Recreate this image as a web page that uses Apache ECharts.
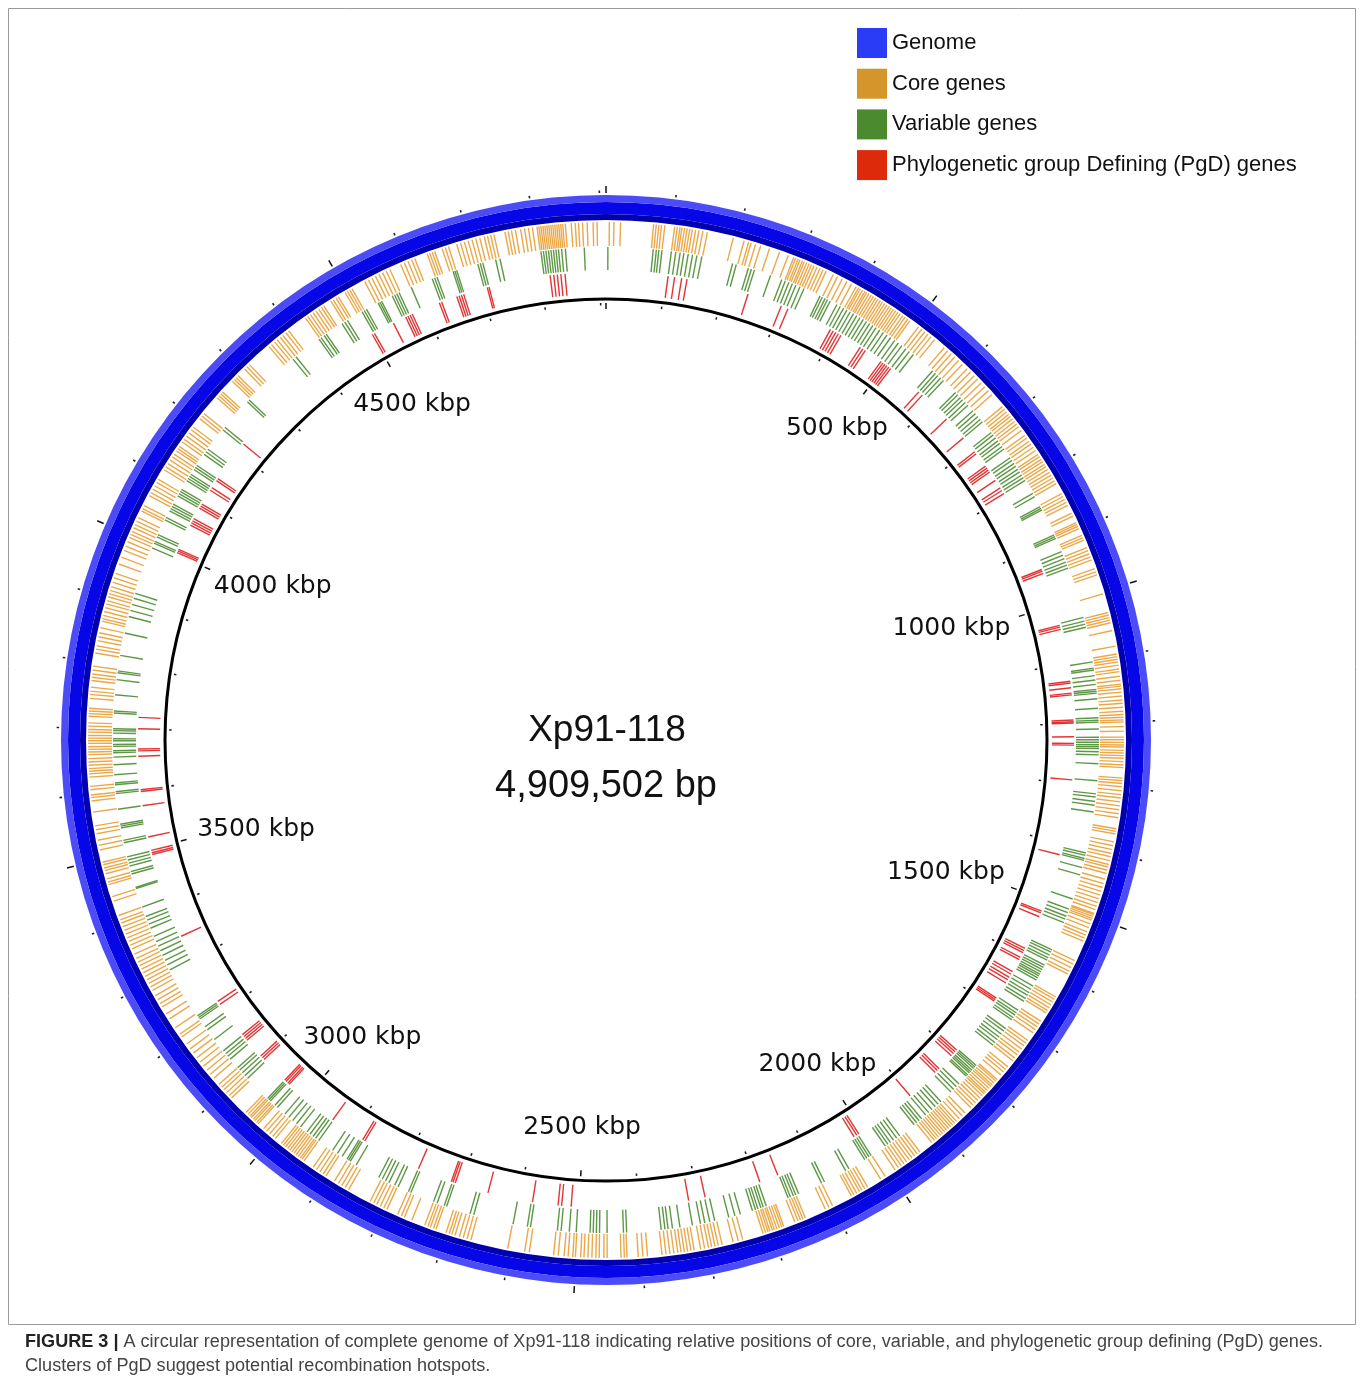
<!DOCTYPE html>
<html>
<head>
<meta charset="utf-8">
<title>Xp91-118 genome map</title>
<script src="https://cdn.jsdelivr.net/npm/echarts@6/dist/echarts.min.js"></script>
<style>
  html, body { margin: 0; padding: 0; background: #ffffff; }
  #chart { width: 1360px; height: 1382px; }
</style>
</head>
<body>
<div id="chart"></div>
<script>
// ---------------------------------------------------------------------------
// Genome and annotation data (positions in kbp)
// ---------------------------------------------------------------------------
const genomeName = 'Xp91-118';
const genomeLengthBp = 4909502;

// scale ticks (kbp)
const majorTicks = [0, 500, 1000, 1500, 2000, 2500, 3000, 3500, 4000, 4500];
const minorTicks = [100, 200, 300, 400, 600, 700, 800, 900, 1100, 1200, 1300, 1400,
  1600, 1700, 1800, 1900, 2100, 2200, 2300, 2400, 2600, 2700, 2800, 2900,
  3100, 3200, 3300, 3400, 3600, 3700, 3800, 3900, 4100, 4200, 4300, 4400,
  4600, 4700, 4800, 4900];
const labelTicks = [500, 1000, 1500, 2000, 2500, 3000, 3500, 4000, 4500];
const labelTexts = ['500 kbp', '1000 kbp', '1500 kbp', '2000 kbp', '2500 kbp',
  '3000 kbp', '3500 kbp', '4000 kbp', '4500 kbp'];

// core genes (kbp)
const coreGenes = [5, 12, 22,
  72, 76, 80, 84, 89,
  104, 108, 112, 115, 119, 123, 127, 131, 136, 141, 147, 154,
  194, 211, 218, 222, 229, 237, 251, 267, 281,
  290, 293, 297, 300, 304, 307, 311, 315, 319, 323, 328, 333, 338, 343,
  355, 362, 370, 378, 386,
  394, 398, 401, 405, 409, 412, 416, 420, 424, 428, 432, 436, 440, 444, 448, 452, 456, 460, 464, 468, 472, 477, 481, 486, 490,
  506, 512, 518, 524, 530, 537,
  556, 563, 570, 577, 585, 593,
  603, 610, 618, 625, 633, 641, 649, 657,
  681, 686, 691, 696, 700, 705, 710, 715, 720, 727,
  736, 741, 747, 752, 758, 764,
  771, 775, 780, 784, 789, 793, 798, 803, 808, 813, 818, 823,
  840, 845, 850, 855, 860, 873, 878,
  889, 892, 895, 899, 910, 914, 918,
  930, 935, 940, 945, 950, 964, 969, 974, 1004,
  1033, 1037, 1041, 1045, 1049, 1061,
  1085, 1097, 1101, 1105, 1109, 1114, 1120, 1124, 1131, 1137, 1143, 1146, 1150, 1155,
  1161, 1167, 1172, 1178, 1184, 1189, 1193, 1197, 1200, 1207, 1214,
  1223, 1227, 1231, 1235, 1238, 1243, 1247, 1251, 1255, 1260, 1265, 1269,
  1285, 1289, 1293, 1298, 1304, 1310, 1315, 1321, 1327, 1333, 1339, 1345,
  1362, 1366, 1370, 1382, 1388, 1394, 1400, 1405, 1411, 1417, 1421, 1426, 1431, 1440, 1447,
  1453, 1459, 1465, 1471, 1477, 1483, 1488, 1494, 1496, 1499, 1502, 1505, 1511, 1517,
  1524, 1529, 1534, 1539,
  1571, 1577, 1583, 1589, 1594,
  1633, 1637, 1642, 1647, 1652, 1657, 1661,
  1676, 1681, 1686, 1691, 1697,
  1711, 1716, 1721, 1727, 1733, 1738, 1744, 1749,
  1761, 1766, 1771, 1777,
  1786, 1789, 1793, 1797, 1800, 1804, 1808, 1812, 1815, 1819,
  1824, 1829, 1834, 1839, 1844, 1856, 1862, 1868, 1874,
  1878, 1882, 1886, 1890, 1894, 1898, 1902, 1906, 1910, 1914, 1918, 1923,
  1946, 1951, 1956, 1961, 1966, 1971, 1976, 1981, 1986, 1992,
  2010, 2018, 2041, 2046, 2051, 2055, 2060, 2065, 2069,
  2101, 2107, 2113, 2146, 2150, 2154, 2158, 2163,
  2181, 2184, 2188, 2192, 2196, 2199, 2203, 2206, 2210, 2214,
  2246, 2253, 2261, 2278, 2284, 2289, 2294, 2299, 2305, 2311,
  2321, 2326, 2331, 2336, 2341, 2346, 2352, 2358, 2364, 2370,
  2392, 2399, 2406, 2423, 2427, 2432, 2453, 2458,
  2465, 2470, 2476, 2482, 2488, 2493, 2501, 2505, 2512, 2518, 2527, 2534,
  2571, 2578, 2604,
  2661, 2667, 2673, 2679, 2686, 2691, 2695, 2700,
  2716, 2720, 2725, 2729, 2734, 2755, 2767, 2772, 2778,
  2796, 2801, 2807, 2813, 2818, 2824,
  2861, 2867, 2873, 2879, 2886, 2901, 2906, 2912, 2918, 2924,
  2941, 2945, 2948, 2952, 2956, 2960, 2964, 2968, 2972, 2976, 2980, 2984,
  2996, 3001, 3007, 3013, 3019,
  3030, 3033, 3037, 3040, 3044, 3047, 3051, 3055,
  3086, 3091, 3097, 3103, 3108, 3114,
  3126, 3134, 3142, 3150, 3158, 3166, 3175, 3183, 3192, 3205, 3210, 3222, 3238, 3247,
  3259, 3265, 3272, 3279, 3288, 3294, 3300, 3306, 3312, 3318,
  3324, 3330, 3336, 3342, 3349,
  3358, 3364, 3370, 3376, 3382, 3388, 3394, 3400, 3405, 3412, 3435, 3442,
  3461, 3465, 3470, 3478, 3483, 3487, 3492, 3496,
  3515, 3522, 3530, 3540, 3546, 3552, 3573,
  3590, 3595, 3599, 3607, 3612, 3626, 3631, 3635, 3639, 3644, 3649, 3654,
  3660, 3664, 3668, 3672, 3677, 3681, 3685, 3689, 3694, 3698, 3703, 3708,
  3718, 3722, 3726, 3730, 3745, 3751, 3756, 3762,
  3772, 3777, 3782, 3788, 3794, 3814, 3820, 3825, 3833, 3839, 3845, 3853, 3863,
  3867, 3872, 3878, 3884, 3890, 3895, 3901, 3906,
  3911, 3917, 3924, 3931, 3938, 3953, 3964,
  3975, 3982, 3989, 3996, 4001, 4006, 4012, 4017, 4023, 4029, 4040, 4044, 4049,
  4066, 4071, 4077, 4083, 4089, 4094,
  4111, 4116, 4122, 4128, 4134, 4139, 4145, 4149, 4153,
  4161, 4166, 4172, 4178, 4184, 4189, 4205, 4210, 4215,
  4246, 4250, 4254, 4258, 4280, 4284, 4288, 4292, 4306, 4311, 4316,
  4356, 4361, 4367, 4372, 4378, 4383, 4389, 4394,
  4426, 4430, 4435, 4440, 4445, 4450, 4455, 4459,
  4472, 4476, 4481, 4485, 4497, 4501, 4505, 4509,
  4531, 4537, 4543, 4549, 4555, 4561, 4567, 4573,
  4591, 4597, 4603, 4609, 4614, 4634, 4638, 4642, 4646, 4658, 4663, 4668,
  4681, 4687, 4693, 4699, 4705, 4711, 4717, 4724, 4729, 4734, 4739,
  4756, 4761, 4766, 4772, 4780, 4786, 4792, 4798,
  4805, 4808, 4811, 4814, 4817, 4820, 4823, 4826, 4829, 4832, 4835, 4838, 4841, 4844, 4848,
  4857, 4863, 4868, 4874, 4881, 4890, 4896];

// variable genes (kbp)
const variableGenes = [3,
  75, 80, 84, 89,
  104, 111, 118, 124, 131, 138, 145, 153,
  203, 209, 229, 234, 239, 266,
  285, 291, 297, 303, 309, 316, 323,
  351, 355, 360, 364, 369,
  381, 387, 393, 399, 405, 411, 417, 423, 429, 435, 441, 447, 453, 460, 467,
  474, 481, 489, 496, 503, 511, 518, 526,
  566, 572, 577, 583, 589,
  616, 621, 627, 632, 638, 644,
  656, 662, 668, 674, 679,
  701, 706, 712, 718, 723, 729, 734,
  751, 756, 762, 767, 773, 778, 784, 789, 794,
  818, 824, 842, 845, 848, 892, 895, 898,
  921, 927, 933, 939, 944, 949,
  1031, 1037, 1042, 1047,
  1103, 1113, 1116, 1125, 1132, 1139, 1147, 1150, 1153, 1162, 1177, 1192, 1196, 1199, 1210,
  1223, 1227, 1231, 1235, 1238, 1241, 1246, 1251, 1265, 1292, 1313, 1318,
  1325, 1331, 1342, 1408, 1412, 1417, 1420, 1432, 1444, 1484,
  1501, 1507, 1513, 1518, 1524,
  1571, 1575, 1580, 1585, 1589,
  1598, 1602, 1606, 1610, 1614, 1617, 1621, 1625,
  1636, 1642, 1648, 1653, 1659, 1664,
  1681, 1686, 1690, 1695, 1699,
  1716, 1721, 1727, 1733, 1738, 1744, 1749,
  1791, 1794, 1797, 1801, 1804, 1807, 1811, 1814,
  1831, 1837, 1843, 1849,
  1871, 1877, 1883, 1890, 1897, 1903,
  1912, 1917, 1922, 1927,
  1956, 1962, 1968, 1974, 1979, 1984,
  2011, 2015, 2019, 2023, 2052, 2058, 2096, 2101,
  2141, 2146, 2150, 2155, 2159,
  2196, 2201, 2205, 2210, 2214, 2219,
  2239, 2248, 2258, 2281, 2289, 2297, 2304, 2317,
  2337, 2349, 2356, 2361, 2367,
  2422, 2427, 2453, 2465, 2470, 2475, 2480,
  2502, 2513, 2526, 2532, 2575, 2580, 2603,
  2667, 2673, 2712, 2716, 2728, 2734, 2773, 2777, 2795, 2801,
  2811, 2817, 2823, 2829, 2870, 2881, 2884, 2887, 2896, 2905, 2914,
  2941, 2947, 2952, 2958, 2964,
  2977, 2985, 2993, 3001, 3009,
  3025, 3030, 3040, 3043, 3046,
  3091, 3097, 3103, 3109, 3114,
  3132, 3138, 3143, 3149, 3172, 3191, 3197, 3212, 3215, 3218,
  3303, 3312, 3320, 3329, 3337, 3345, 3353, 3362,
  3376, 3383, 3390, 3396, 3412, 3443, 3445, 3467, 3471,
  3480, 3485, 3490, 3495, 3518, 3522, 3542, 3545, 3548, 3572,
  3597, 3600, 3611, 3614, 3627, 3643, 3655, 3662, 3665, 3672, 3675, 3681, 3684,
  3693, 3697, 3700, 3725, 3728, 3754, 3778, 3789, 3792, 3817, 3853,
  3880, 3890, 3900, 3910, 3918,
  3995, 4003, 4006, 4014, 4018, 4044, 4048,
  4060, 4064, 4068, 4072, 4087, 4091, 4095, 4099,
  4115, 4119, 4123, 4127, 4136, 4140, 4144, 4165, 4170, 4175,
  4214, 4219, 4273, 4277, 4372, 4378,
  4424, 4428, 4434, 4438, 4468, 4473, 4478,
  4505, 4509, 4513, 4534, 4537, 4540, 4559, 4563, 4567, 4571, 4592,
  4628, 4632, 4636, 4663, 4666, 4669,
  4704, 4708, 4712, 4733, 4740,
  4806, 4810, 4814, 4818, 4822, 4826, 4830, 4834, 4839, 4845, 4875];

// phylogenetic group defining (PgD) genes (kbp)
const pgdGenes = [104, 115, 127, 136,
  241, 300, 312,
  391, 396, 401, 406, 411,
  449, 454, 459,
  491, 495, 499, 503, 507, 511,
  572, 580, 637, 679, 709, 713,
  739, 743, 747, 751, 768, 783, 788, 794,
  936, 939, 943, 1034, 1037, 1041,
  1129, 1132, 1140, 1149, 1152, 1194, 1197, 1199, 1222, 1233, 1236, 1294,
  1421, 1520, 1523, 1530, 1588, 1592, 1596, 1605, 1609,
  1632, 1637, 1643, 1648, 1654, 1684, 1687, 1690,
  1793, 1797, 1801, 1806, 1836, 1840, 1845, 1902,
  2009, 2013, 2018, 2161, 2193, 2288, 2316,
  2513, 2529, 2535, 2578, 2654,
  2711, 2715, 2718, 2777, 2878, 2882, 2942,
  3036, 3039, 3043, 3046, 3095, 3099, 3103,
  3138, 3142, 3146, 3150, 3213, 3219, 3344,
  3489, 3492, 3496, 3519, 3572, 3596, 3599, 3655, 3664, 3667, 3701, 3720,
  4004, 4007, 4010, 4055, 4059, 4063, 4067, 4087, 4091, 4095,
  4122, 4127, 4141, 4145, 4217,
  4501, 4505, 4541, 4564, 4568, 4572, 4576, 4625, 4629,
  4656, 4660, 4664, 4668, 4709, 4712,
  4816, 4822, 4828, 4834, 4841];

// ---------------------------------------------------------------------------
// Layout (pixels) and styling
// ---------------------------------------------------------------------------
const CENTER = [606, 740];
const POLAR_R = 560;           // radius axis runs 0..POLAR_R so one unit is one pixel
const RING = {
  genomeOuter: 545, genomeLight: 538, genomeDark: 526, genomeInner: 520,
  coreOuter: 518, coreInner: 494,
  varOuter: 493, varInner: 470,
  pgdOuter: 468, pgdInner: 446,
  scale: 441
};
const COLORS = {
  genome: '#2a3cf6', genomeLight: '#4b4bf7', genomeMain: '#0606e6', genomeDark: '#0000b0',
  core: '#d4952a', coreMark: 'rgba(229,144,20,0.78)',
  variable: '#4b8a2e', variableMark: 'rgba(58,128,28,0.82)',
  pgd: '#dd2a0a', pgdMark: 'rgba(222,16,16,0.85)'
};
const LABEL_FONT = '25px "DejaVu Sans"';
// scale labels: horizontal placement keeps the label edge at LABEL_EDGE_R,
// vertical placement puts the label centre on radius LABEL_MID_R
const LABEL_EDGE_R = 417;
const LABEL_MID_R = 388;

const measureCtx = document.createElement('canvas').getContext('2d');
function textWidth(text, font) {
  measureCtx.font = font;
  return measureCtx.measureText(text).width;
}

function radialLine(api, pos, r0, r1, stroke, width) {
  const a = api.coord([r0, pos]);
  const b = api.coord([r1, pos]);
  return {
    type: 'line',
    shape: { x1: a[0], y1: a[1], x2: b[0], y2: b[1] },
    style: { stroke: stroke, lineWidth: width }
  };
}

function geneSeries(name, genes, legendColor, markColor, r0, r1) {
  return {
    type: 'custom',
    name: name,
    coordinateSystem: 'polar',
    itemStyle: { color: legendColor },
    silent: true,
    data: genes.map(p => [0, p]),
    renderItem: (params, api) => radialLine(api, api.value(1), r0, r1, markColor, 1.4)
  };
}

function ringShape(api, r0, r, fill) {
  const c = api.coord([0, 0]);
  return { type: 'ring', shape: { cx: c[0], cy: c[1], r0: r0, r: r }, style: { fill: fill } };
}

const chart = echarts.init(document.getElementById('chart'), null, { renderer: 'canvas' });

// caption text fitted to the figure width
const CAPTION_FONT_FAMILY = '"Liberation Sans Narrow", "Liberation Sans", Arial, sans-serif';
const captionBold = 'FIGURE 3 |';
const captionRest = ' A circular representation of complete genome of Xp91-118 indicating relative positions of core, variable, and phylogenetic group defining (PgD) genes.';
const captionLine2 = 'Clusters of PgD suggest potential recombination hotspots.';
const captionWidth = textWidth(captionBold, 'bold 18px ' + CAPTION_FONT_FAMILY) +
  textWidth(captionRest, '18px ' + CAPTION_FONT_FAMILY);
const captionScale = 1298 / captionWidth;

const option = {
  animation: false,
  backgroundColor: '#ffffff',
  polar: { center: CENTER, radius: POLAR_R },
  angleAxis: {
    type: 'value', min: 0, max: genomeLengthBp / 1000,
    startAngle: 90, clockwise: true, show: false
  },
  radiusAxis: { type: 'value', min: 0, max: POLAR_R, show: false },
  legend: {
    orient: 'vertical', left: 857, top: 28, padding: 0,
    itemWidth: 30, itemHeight: 30, itemGap: 10.7,
    icon: 'rect', selectedMode: false,
    textStyle: { fontFamily: '"Liberation Sans", Arial, sans-serif', fontSize: 22, color: '#111' },
    data: [
      { name: 'Genome', itemStyle: { color: COLORS.genome } },
      { name: 'Core genes', itemStyle: { color: COLORS.core } },
      { name: 'Variable genes', itemStyle: { color: COLORS.variable } },
      { name: 'Phylogenetic group Defining (PgD) genes', itemStyle: { color: COLORS.pgd } }
    ]
  },
  graphic: [
    { type: 'rect', silent: true, shape: { x: 8.5, y: 8.5, width: 1347, height: 1316 },
      style: { fill: 'none', stroke: '#9a9a9a', lineWidth: 1 } },
    { type: 'text', silent: true, x: CENTER[0] + 1, y: 731,
      style: { text: genomeName, font: '37px "Liberation Sans", Arial, sans-serif', fill: '#111',
        align: 'center', verticalAlign: 'middle', textAlign: 'center', textVerticalAlign: 'middle' } },
    { type: 'text', silent: true, x: CENTER[0], y: 787,
      style: { text: genomeLengthBp.toLocaleString('en-US') + ' bp', font: '38px "Liberation Sans", Arial, sans-serif', fill: '#111',
        align: 'center', verticalAlign: 'middle', textAlign: 'center', textVerticalAlign: 'middle' } },
    { type: 'text', silent: true, x: 25, y: 1342, scaleX: captionScale,
      style: { text: '{b|' + captionBold + '}{r|' + captionRest + '}',
        verticalAlign: 'middle', textVerticalAlign: 'middle',
        rich: {
          b: { font: 'bold 18px ' + CAPTION_FONT_FAMILY, fill: '#222' },
          r: { font: '18px ' + CAPTION_FONT_FAMILY, fill: '#444' }
        } } },
    { type: 'text', silent: true, x: 25, y: 1366, scaleX: captionScale,
      style: { text: captionLine2, font: '18px ' + CAPTION_FONT_FAMILY, fill: '#444',
        verticalAlign: 'middle', textVerticalAlign: 'middle' } }
  ],
  series: [
    {
      type: 'custom', name: 'Genome', coordinateSystem: 'polar', silent: true,
      itemStyle: { color: COLORS.genome },
      data: [[0, 0]],
      renderItem: (params, api) => ({
        type: 'group',
        children: [
          ringShape(api, RING.genomeInner, RING.genomeDark, COLORS.genomeDark),
          ringShape(api, RING.genomeDark, RING.genomeLight, COLORS.genomeMain),
          ringShape(api, RING.genomeLight, RING.genomeOuter, COLORS.genomeLight)
        ]
      })
    },
    geneSeries('Core genes', coreGenes, COLORS.core, COLORS.coreMark, RING.coreInner, RING.coreOuter),
    geneSeries('Variable genes', variableGenes, COLORS.variable, COLORS.variableMark, RING.varInner, RING.varOuter),
    geneSeries('Phylogenetic group Defining (PgD) genes', pgdGenes, COLORS.pgd, COLORS.pgdMark, RING.pgdInner, RING.pgdOuter),
    {
      // inner scale circle
      type: 'custom', name: 'scaleCircle', coordinateSystem: 'polar', silent: true,
      data: [[0, 0]],
      renderItem: (params, api) => {
        const c = api.coord([0, 0]);
        return { type: 'circle', shape: { cx: c[0], cy: c[1], r: RING.scale },
          style: { fill: 'none', stroke: '#000', lineWidth: 3 } };
      }
    },
    {
      // major ticks outside the genome ring and inside the scale circle
      type: 'custom', name: 'majorTicks', coordinateSystem: 'polar', silent: true,
      data: majorTicks.map(v => [0, v]),
      renderItem: (params, api) => ({
        type: 'group',
        children: [
          radialLine(api, api.value(1), 547, 554, '#111', 1.5),
          radialLine(api, api.value(1), 431, 437, '#111', 1.5)
        ]
      })
    },
    {
      type: 'custom', name: 'minorTicks', coordinateSystem: 'polar', silent: true,
      data: minorTicks.map(v => [0, v]),
      renderItem: (params, api) => ({
        type: 'group',
        children: [
          radialLine(api, api.value(1), 547, 549.5, '#222', 1.6),
          radialLine(api, api.value(1), 434.5, 437, '#222', 1.6)
        ]
      })
    },
    {
      type: 'custom', name: 'tickLabels', coordinateSystem: 'polar', silent: true,
      data: labelTicks.map(v => [0, v]),
      renderItem: (params, api) => {
        const v = api.value(1);
        const text = labelTexts[params.dataIndex];
        const c = api.coord([0, v]);
        const q = api.coord([100, v]);
        const ux = (q[0] - c[0]) / 100;
        const w = textWidth(text, LABEL_FONT);
        const px = api.coord([LABEL_EDGE_R - (w / 2) * Math.abs(ux), v])[0];
        const py = api.coord([LABEL_MID_R, v])[1];
        return { type: 'text', x: px, y: py,
          style: { text: text, font: LABEL_FONT, fill: '#111',
            align: 'center', verticalAlign: 'middle' } };
      }
    }
  ]
};

chart.setOption(option);
</script>
</body>
</html>
